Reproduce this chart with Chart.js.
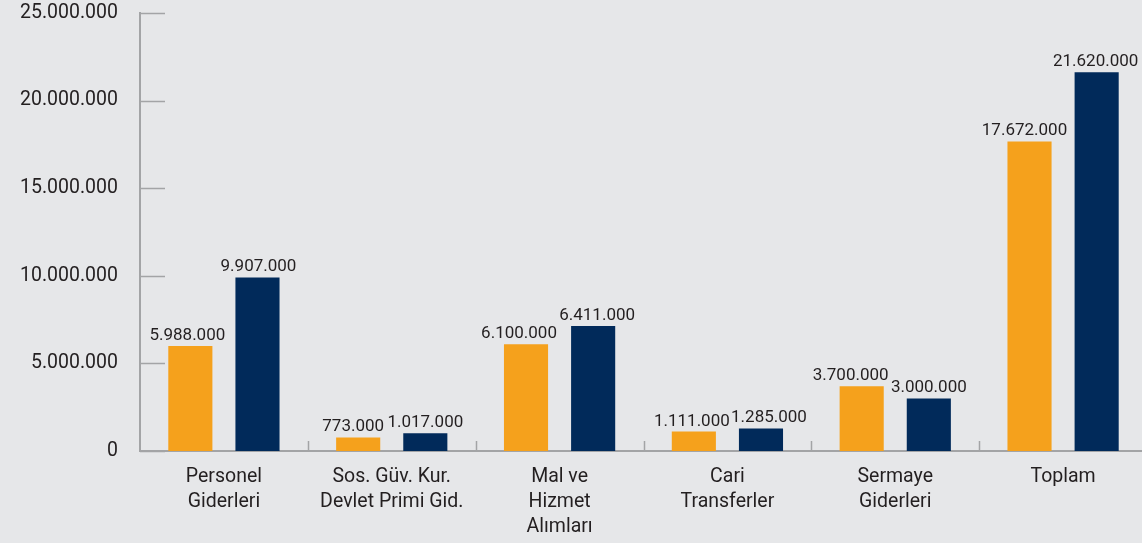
<!DOCTYPE html>
<html lang="tr">
  <head>
    <meta charset="UTF-8" />
    <title>Bütçe Giderleri</title>
    <style>
      html,
      body {
        margin: 0;
        padding: 0;
        overflow: hidden;
        background-color: #e6e7e9;
        font-family: "Roboto", sans-serif;
      }
      #wrap {
        width: 1147px;
        height: 543px;
      }
    </style>
    <script src="https://cdn.jsdelivr.net/npm/chart.js"></script>
  </head>
  <body>
    <div id="wrap"><canvas id="chart" width="1147" height="543"></canvas></div>
    <script>
      // categories (multi-line as in the picture)
      const categories = [
        ["Personel", "Giderleri"],
        ["Sos. Güv. Kur.", "Devlet Primi Gid."],
        ["Mal ve", "Hizmet", "Alımları"],
        ["Cari", "Transferler"],
        ["Sermaye", "Giderleri"],
        ["Toplam"],
      ];

      // bar heights
      const orangeValues = [5988000, 773000, 6100000, 1111000, 3700000, 17672000];
      const navyValues = [9907000, 1017000, 7130000, 1285000, 3000000, 21620000];

      // value labels printed above the bars
      const orangeLabels = ["5.988.000", "773.000", "6.100.000", "1.111.000", "3.700.000", "17.672.000"];
      const navyLabels = ["9.907.000", "1.017.000", "6.411.000", "1.285.000", "3.000.000", "21.620.000"];

      // y axis ticks
      const yTickValues = [0, 5000000, 10000000, 15000000, 20000000, 25000000];
      const yTickLabels = ["0", "5.000.000", "10.000.000", "15.000.000", "20.000.000", "25.000.000"];

      const ORANGE = "#f5a11c";
      const NAVY = "#012a5a";
      const AXIS = "#a3a4a6";
      const TEXT = "#231f20";

      // small sideways nudges the original applies to some labels
      const labelNudge = [
        [-3, 1],
        [-5, 0],
        [-7, 4],
        [-2, 8],
        [-11, 0],
        [-5, -1],
      ];

      // short inward tick marks on both axes
      const innerTicks = {
        id: "innerTicks",
        afterDraw(chart) {
          const ctx = chart.ctx;
          const x = chart.scales.x;
          const y = chart.scales.y;
          const area = chart.chartArea;
          ctx.save();
          ctx.strokeStyle = AXIS;
          ctx.lineWidth = 1.5;
          ctx.beginPath();
          for (const v of yTickValues) {
            const py = Math.round(y.getPixelForValue(v)) + 0.5;
            ctx.moveTo(area.left, py);
            ctx.lineTo(area.left + 25, py);
          }
          for (let i = 1; i < categories.length; i++) {
            const px = Math.round(x.getPixelForValue(i - 0.5)) + 0.5;
            ctx.moveTo(px, area.bottom);
            ctx.lineTo(px, area.bottom - 10);
          }
          ctx.stroke();
          ctx.restore();
        },
      };

      const valueLabels = {
        id: "valueLabels",
        afterDatasetsDraw(chart) {
          const ctx = chart.ctx;
          ctx.save();
          ctx.font = "17px Roboto";
          ctx.fillStyle = TEXT;
          ctx.textAlign = "center";
          ctx.textBaseline = "alphabetic";
          const sets = [orangeLabels, navyLabels];
          sets.forEach((labels, d) => {
            chart.getDatasetMeta(d).data.forEach((bar, i) => {
              ctx.fillText(labels[i], bar.x + labelNudge[i][d], bar.y - 6);
            });
          });
          ctx.restore();
        },
      };

      new Chart(document.getElementById("chart"), {
        type: "bar",
        data: {
          labels: categories,
          datasets: [
            { data: orangeValues, backgroundColor: ORANGE },
            { data: navyValues, backgroundColor: NAVY },
          ],
        },
        options: {
          responsive: false,
          animation: false,
          events: [],
          layout: { padding: { top: 13, left: 0, right: 0, bottom: 0 } },
          datasets: {
            bar: {
              categoryPercentage: 0.8,
              barPercentage: 0.657,
              borderWidth: 0,
            },
          },
          plugins: {
            legend: { display: false },
            tooltip: { enabled: false },
          },
          scales: {
            x: {
              grid: { display: false, drawTicks: false },
              border: { display: true, color: AXIS, width: 2 },
              ticks: {
                color: TEXT,
                padding: 13,
                maxRotation: 0,
                autoSkip: false,
                font: { family: "Roboto", size: 19.5, lineHeight: 1.3 },
              },
              afterFit(scale) {
                scale.height = 92;
              },
            },
            y: {
              min: 0,
              max: 25000000,
              grid: { display: false, drawTicks: false },
              border: { display: true, color: AXIS, width: 2 },
              afterBuildTicks(scale) {
                scale.ticks = yTickValues.map((v) => ({ value: v }));
              },
              ticks: {
                color: TEXT,
                padding: 22,
                font: { family: "Roboto", size: 19.5 },
                callback: (value) => yTickLabels[yTickValues.indexOf(value)],
              },
              afterFit(scale) {
                scale.width = 140;
                scale.paddingTop = 0;
                scale.paddingBottom = 0;
              },
            },
          },
        },
        plugins: [innerTicks, valueLabels],
      });
    </script>
  </body>
</html>
